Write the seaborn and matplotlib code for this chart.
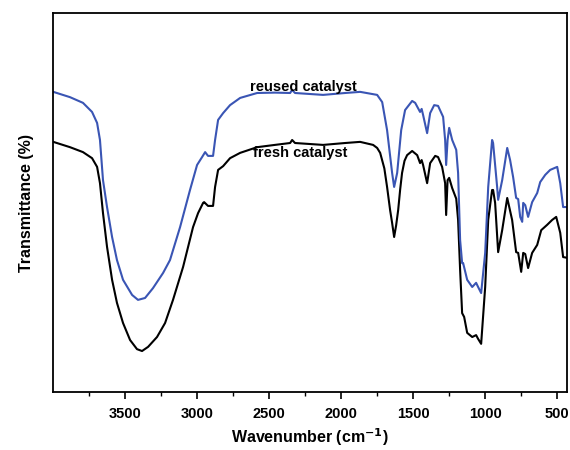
import pandas as pd
import matplotlib
matplotlib.use("Agg")
import matplotlib.pyplot as plt
from matplotlib.ticker import FixedLocator, NullLocator
import seaborn as sns

# FTIR spectra (wavenumber in cm-1, transmittance in arbitrary %)
fresh_wn = [3998, 3882, 3792, 3729, 3694, 3674, 3653, 3625, 3590, 3556, 3514, 3465,
            3417, 3382, 3340, 3278, 3222, 3167, 3097, 3028, 2993, 2958, 2951, 2924,
            2889, 2875, 2854, 2819, 2771, 2701, 2583, 2460, 2354, 2340, 2320, 2125,
            1972, 1868, 1778, 1750, 1729, 1700, 1681, 1660, 1646, 1632, 1618, 1604,
            1590, 1577, 1560, 1542, 1507, 1472, 1452, 1441, 1431, 1403, 1382, 1347,
            1327, 1299, 1278, 1271, 1261, 1250, 1229, 1201, 1188, 1174, 1160, 1146,
            1125, 1090, 1063, 1049, 1028, 1000, 979, 952, 945, 931, 910, 882, 847,
            813, 785, 771, 750, 736, 722, 702, 674, 639, 611, 570, 535, 507, 479,
            459, 431]
fresh_t = [66.0, 64.6, 63.3, 61.7, 59.4, 55.1, 47.2, 38.3, 29.6, 23.5, 18.2, 13.7,
           11.3, 10.8, 11.9, 14.5, 18.2, 24.3, 33.0, 43.5, 47.2, 49.9, 50.1, 49.1,
           49.1, 54.1, 58.6, 59.6, 61.7, 63.1, 64.6, 65.2, 65.7, 66.5, 65.7, 65.2,
           65.7, 66.0, 65.2, 64.4, 63.1, 59.0, 54.1, 48.0, 44.6, 40.9, 44.0, 48.0,
           53.5, 57.8, 61.0, 62.5, 63.6, 62.5, 60.4, 61.2, 59.9, 55.1, 60.4, 62.3,
           62.0, 59.4, 55.1, 46.7, 55.9, 56.5, 53.8, 51.0, 45.4, 32.2, 20.8, 19.8,
           15.6, 14.5, 15.0, 14.0, 12.7, 27.7, 45.4, 53.3, 53.3, 49.9, 36.9, 42.7,
           51.2, 45.4, 36.9, 36.7, 31.7, 36.7, 36.4, 32.7, 36.7, 38.8, 42.7, 44.1,
           45.4, 46.2, 42.0, 35.6, 35.4]

reused_wn = [3998, 3882, 3792, 3729, 3694, 3674, 3653, 3625, 3590, 3556, 3514, 3451,
             3410, 3361, 3306, 3236, 3188, 3118, 3049, 3000, 2965, 2944, 2924, 2889,
             2875, 2854, 2819, 2771, 2701, 2583, 2460, 2354, 2340, 2320, 2125, 1972,
             1868, 1750, 1715, 1681, 1646, 1632, 1611, 1583, 1556, 1507, 1486, 1452,
             1441, 1431, 1403, 1382, 1354, 1327, 1292, 1278, 1271, 1261, 1250, 1229,
             1201, 1188, 1174, 1160, 1153, 1125, 1090, 1063, 1049, 1028, 1000, 979,
             952, 945, 917, 910, 882, 847, 827, 806, 785, 771, 757, 743, 736, 722,
             702, 674, 639, 618, 583, 549, 500, 479, 459, 431]
reused_t = [79.2, 77.8, 76.3, 73.9, 71.0, 66.5, 55.9, 48.8, 40.9, 34.8, 29.6, 25.6,
            24.3, 24.8, 27.4, 31.4, 34.8, 43.5, 53.3, 59.9, 62.0, 63.3, 62.3, 62.3,
            66.5, 71.8, 73.6, 75.7, 77.6, 78.9, 79.0, 78.9, 79.7, 78.9, 78.4, 78.9,
            79.2, 78.4, 76.5, 69.1, 57.8, 54.1, 57.8, 69.1, 74.4, 76.8, 76.3, 73.9,
            74.7, 73.1, 68.3, 73.6, 75.7, 75.5, 72.6, 66.5, 59.9, 66.5, 69.7, 66.5,
            63.9, 57.8, 40.1, 34.0, 34.0, 29.6, 27.7, 28.8, 27.7, 26.1, 36.7, 54.1,
            66.5, 65.7, 54.1, 50.7, 55.9, 64.4, 61.2, 56.7, 51.2, 50.9, 46.2, 44.9,
            49.9, 49.3, 46.2, 50.1, 52.5, 55.4, 57.3, 58.6, 59.4, 55.1, 48.8, 48.8]

samples = ["fresh catalyst", "reused catalyst"]
major_ticks = [3500, 3000, 2500, 2000, 1500, 1000, 500]
minor_ticks = [3750, 3250, 2750, 2250, 1750, 1250, 750]

df = pd.concat([
    pd.DataFrame({"wn": fresh_wn, "T": fresh_t, "sample": samples[0]}),
    pd.DataFrame({"wn": reused_wn, "T": reused_t, "sample": samples[1]}),
])

sns.set_theme(style="ticks")
plt.rcParams["font.family"] = ["Liberation Sans", "DejaVu Sans"]
plt.rcParams["font.weight"] = "bold"
plt.rcParams["text.color"] = "black"
plt.rcParams["axes.labelcolor"] = "black"
plt.rcParams["xtick.color"] = "black"

fig = plt.figure(figsize=(5.7, 4.5), dpi=100)
ax = fig.add_axes([0.093, 0.129, 0.902, 0.842])

sns.lineplot(data=df, x="wn", y="T", hue="sample", sort=False, estimator=None,
             palette={"fresh catalyst": "black", "reused catalyst": "#3a55b4"},
             linewidth=1.5, legend=False, ax=ax)
for ln in ax.get_lines():
    ln.set_solid_joinstyle("round")

ax.set_xlim(4000, 431)
ax.set_ylim(0, 100)
ax.xaxis.set_major_locator(FixedLocator(major_ticks))
ax.xaxis.set_minor_locator(FixedLocator(minor_ticks))
ax.yaxis.set_major_locator(NullLocator())
ax.tick_params(axis="x", which="major", direction="out", length=5, width=1.2,
               labelsize=10.5, pad=6)
ax.tick_params(axis="x", which="minor", direction="out", length=3, width=1.0)
for lbl in ax.get_xticklabels():
    lbl.set_fontweight("bold")
for sp in ax.spines.values():
    sp.set_linewidth(1.3)
    sp.set_color("black")

ax.set_xlabel("Wavenumber (cm$^{\\mathbf{-1}}$)", fontsize=11.5, fontweight="bold")
ax.set_ylabel("Transmittance (%)", fontsize=11.5, fontweight="bold", labelpad=14)

ax.text(2264, 80.5, "reused catalyst", ha="center", va="center",
        fontsize=10.5, fontweight="bold")
ax.text(2285, 63.1, "fresh catalyst", ha="center", va="center",
        fontsize=10.5, fontweight="bold")

fig.savefig("out.png", dpi=100)
